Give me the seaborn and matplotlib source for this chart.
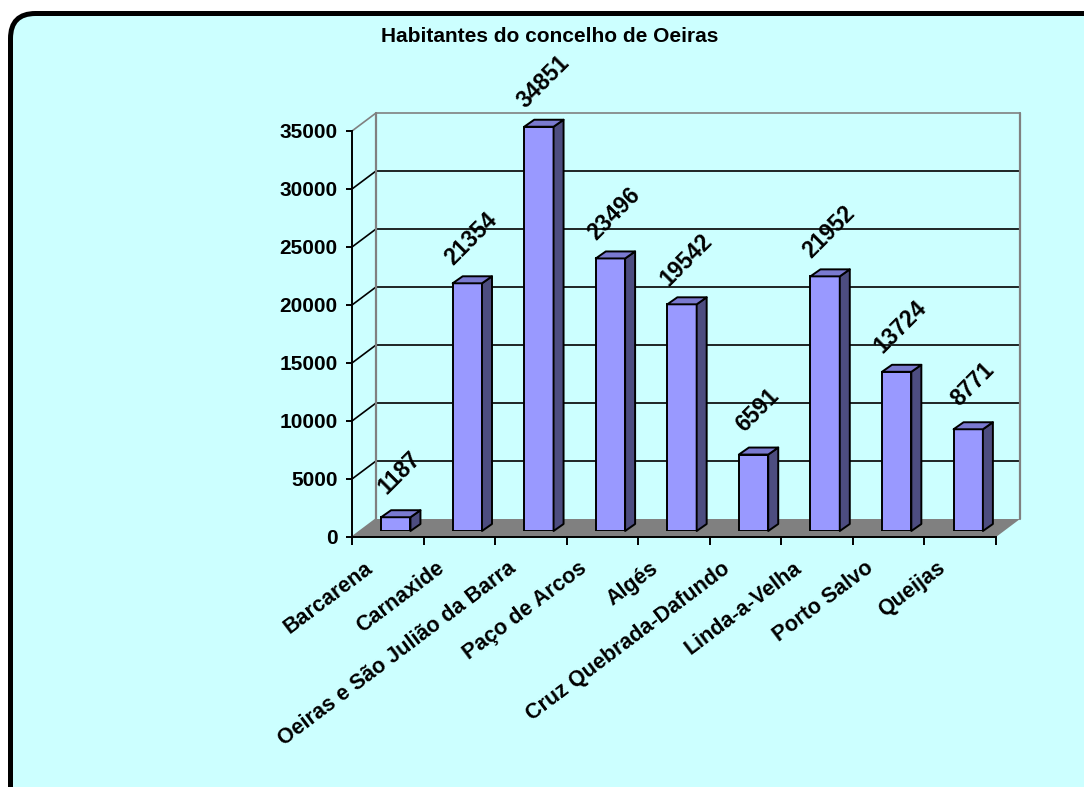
import matplotlib
matplotlib.use("Agg")
import matplotlib.pyplot as plt
from matplotlib.patches import FancyBboxPatch, Polygon
from matplotlib.transforms import ScaledTranslation
import seaborn as sns
import numpy as np

# Population per parish of the Oeiras municipality
freguesias = [
    "Barcarena", "Carnaxide", "Oeiras e São Julião da Barra", "Paço de Arcos",
    "Algés", "Cruz Quebrada-Dafundo", "Linda-a-Velha", "Porto Salvo", "Queijas",
]
habitantes = [1187, 21354, 34851, 23496, 19542, 6591, 21952, 13724, 8771]
y_ticks = [0, 5000, 10000, 15000, 20000, 25000, 30000, 35000]
titulo = "Habitantes do concelho de Oeiras"

sns.set_theme(style="white")
plt.rcParams["font.family"] = ["Liberation Sans", "DejaVu Sans"]
plt.rcParams["text.color"] = "black"
plt.rcParams["xtick.color"] = "black"
plt.rcParams["ytick.color"] = "black"
plt.rcParams["xtick.labelcolor"] = "black"
plt.rcParams["ytick.labelcolor"] = "black"

W, H, DPI = 1084, 787, 100
fig = plt.figure(figsize=(W / DPI, H / DPI), dpi=DPI)
fig.patch.set_facecolor("white")
fig.patch.set_edgecolor("white")
fig.patch.set_linewidth(0)

BG = "#CCFFFF"
FRONT = "#9999FF"
SIDE = "#4D4D80"
TOP = "#7A7AD0"
GREY = "#808080"

# rounded chart-area frame (pixel-based, in inches); right and bottom run off the page
x_left, y_top, x_right, y_bot = 10.5, 13.5, 1200.0, 900.0
frame = FancyBboxPatch((x_left / DPI, (H - y_bot) / DPI),
                       (x_right - x_left) / DPI, (y_bot - y_top) / DPI,
                       boxstyle="round,pad=0,rounding_size=0.25",
                       transform=fig.dpi_scale_trans, facecolor=BG,
                       edgecolor="black", linewidth=3.6, zorder=-10)
fig.patches.append(frame)

n = len(freguesias)
xmin, xmax = -0.5, n - 0.5
ymax = 35000
pw, ph = 644, 406  # plot width/height in pixels

# bar plane axes
ax = fig.add_axes([360 / W, (H - 531) / H, pw / W, ph / H])
sns.barplot(x=freguesias, y=habitantes, ax=ax, color=FRONT, saturation=1,
            width=0.41, edgecolor="black", linewidth=1.4, zorder=3)
ax.set_xlim(xmin, xmax)
ax.set_ylim(0, ymax)
ax.set_axis_off()

kx = (xmax - xmin) / pw   # data units per pixel
ky = ymax / ph

# offsets of the front plane and back wall relative to the bar plane (pixels)
fdx, fdy = -8, -6
bdx, bdy = 16, 12

# floor
floor = Polygon([(xmin + fdx * kx, fdy * ky), (xmax + fdx * kx, fdy * ky),
                 (xmax + bdx * kx, bdy * ky), (xmin + bdx * kx, bdy * ky)],
                closed=True, facecolor=GREY, edgecolor="none", zorder=0.3,
                clip_on=False)
ax.add_patch(floor)

# back wall gridlines and left wall diagonals
for v in y_ticks[1:]:
    col = GREY if v == ymax else "black"
    ax.plot([xmin + bdx * kx, xmax + bdx * kx], [v + bdy * ky] * 2,
            color=col, lw=1.2, clip_on=False, zorder=0.5)
    ax.plot([xmin + fdx * kx, xmin + bdx * kx], [v + fdy * ky, v + bdy * ky],
            color=col, lw=1.2, clip_on=False, zorder=0.5)
for xe in (xmin, xmax):
    ax.plot([xe + bdx * kx] * 2, [bdy * ky, ymax + bdy * ky],
            color=GREY, lw=1.6, clip_on=False, zorder=0.5)
ax.plot([xmin + fdx * kx, xmin + bdx * kx], [fdy * ky, bdy * ky],
        color=GREY, lw=1.2, clip_on=False, zorder=0.5)

# 3-D side and top faces of each bar
ddx, ddy = 10 * kx, 7 * ky
for bar in ax.patches[:n]:
    x0 = bar.get_x()
    x1 = x0 + bar.get_width()
    h = bar.get_height()
    side = Polygon([(x1, 0), (x1 + ddx, ddy), (x1 + ddx, h + ddy), (x1, h)],
                   closed=True, facecolor=SIDE, edgecolor="black", lw=1.4,
                   zorder=3, clip_on=False, joinstyle="round")
    top = Polygon([(x0, h), (x1, h), (x1 + ddx, h + ddy), (x0 + ddx, h + ddy)],
                  closed=True, facecolor=TOP, edgecolor="black", lw=1.4,
                  zorder=3, clip_on=False, joinstyle="round")
    ax.add_patch(side)
    ax.add_patch(top)

# value labels
for i, v in enumerate(habitantes):
    ax.annotate(str(v), xy=(i, v), xytext=(3, 32), textcoords="offset points",
                rotation=45, ha="center", va="center", fontsize=16.5,
                fontweight="bold", color="black", annotation_clip=False)

# front plane axes: y axis, category axis
front = fig.add_axes([352 / W, (H - 537) / H, pw / W, ph / H])
front.set_xlim(xmin, xmax)
front.set_ylim(0, ymax)
front.patch.set_visible(False)
for s in ("top", "right"):
    front.spines[s].set_visible(False)
for s in ("left", "bottom"):
    front.spines[s].set_color("black")
    front.spines[s].set_linewidth(1.4)

front.set_yticks(y_ticks)
front.set_yticklabels([str(t) for t in y_ticks], fontsize=15,
                      fontweight="bold", color="black")
front.tick_params(axis="y", length=4.5, width=1.4, direction="out",
                  color="black", labelcolor="black", pad=6, left=True)

front.set_xticks(np.arange(xmin, xmax + 0.01, 1.0), minor=True)
front.set_xticks(np.arange(n))
front.set_xticklabels(freguesias, fontsize=15.5, fontweight="bold",
                      color="black", rotation=37, ha="right", va="top",
                      rotation_mode="anchor")
front.tick_params(axis="x", which="minor", length=6, width=1.4,
                  direction="out", color="black", bottom=True)
front.tick_params(axis="x", which="major", length=0, pad=15)
shift = ScaledTranslation(-24 / DPI, 0, fig.dpi_scale_trans)
for lab in front.get_xticklabels():
    lab.set_transform(lab.get_transform() + shift)
front.grid(False)

fig.text(550 / W, 1 - 37 / H, titulo, ha="center", va="center",
         fontsize=15, fontweight="bold", color="black")

fig.savefig("out.png", dpi=DPI, facecolor=fig.get_facecolor())
